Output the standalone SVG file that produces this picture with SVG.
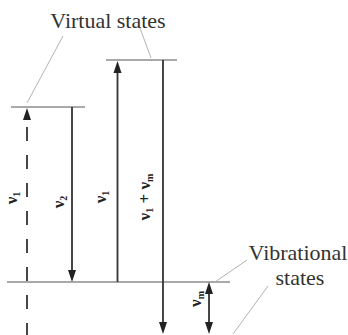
<svg xmlns="http://www.w3.org/2000/svg" width="348" height="335" viewBox="0 0 348 335">
<style>
.level{stroke:#555;stroke-width:1.2;fill:none}
.arr{stroke:#333;stroke-width:1.8;fill:none}
.lead{stroke:#aaa;stroke-width:0.9;fill:none}
.head{fill:#222}
.lbl{font-family:"Liberation Serif","Times New Roman",serif;font-size:22px;fill:#333}
.sym{font-family:"Liberation Serif","Times New Roman",serif;font-size:17px;fill:#222;font-weight:bold}
.sub{font-size:10px}
</style>
<rect width="348" height="335" fill="#fff"/>
<g id="levels">
<line class="level" x1="106" y1="60" x2="177" y2="60"/>
<line class="level" x1="11" y1="107" x2="85" y2="107"/>
<line class="level" x1="7" y1="282" x2="230" y2="282"/>
</g>
<g id="connectors">
<line class="arr" x1="27" y1="118" x2="27" y2="335" stroke-dasharray="14 14" stroke-dashoffset="19" stroke-width="2.2"/>
<polygon class="head" points="27,108 23,120 31,120"/>
<line class="arr" x1="72" y1="107" x2="72" y2="272"/>
<polygon class="head" points="72,282 68,270 76,270"/>
<line class="arr" x1="117.5" y1="282" x2="117.5" y2="70"/>
<polygon class="head" points="117.5,61 113.5,73 121.5,73"/>
<line class="arr" x1="163" y1="60" x2="163" y2="323"/>
<polygon class="head" points="163,334 159,322 167,322"/>
<line class="arr" x1="209" y1="292" x2="209" y2="324" stroke-width="2.2"/>
<polygon class="head" points="209,282 205,294 213,294"/>
<polygon class="head" points="209,334 205,322 213,322"/>
<line class="lead" x1="63" y1="36" x2="27" y2="103"/>
<line class="lead" x1="140" y1="28" x2="151" y2="58"/>
<line class="lead" x1="247" y1="260" x2="215" y2="282"/>
<line class="lead" x1="268" y1="286" x2="233" y2="334"/>
</g>
<g id="virtual-states">
<text class="lbl" x="108" y="28" text-anchor="middle">Virtual states</text>
</g>
<g id="vibrational-states">
<text class="lbl" x="298" y="260" text-anchor="middle">Vibrational</text>
<text class="lbl" x="300" y="285" text-anchor="middle">states</text>
</g>
<g id="labels">
<text class="sym" transform="translate(17,198) rotate(-90)" text-anchor="middle">ν<tspan class="sub" dy="3">1</tspan></text>
<text class="sym" transform="translate(64,202) rotate(-90)" text-anchor="middle">ν<tspan class="sub" dy="3">2</tspan></text>
<text class="sym" transform="translate(106,197) rotate(-90)" text-anchor="middle">ν<tspan class="sub" dy="3">1</tspan></text>
<text class="sym" transform="translate(150,197) rotate(-90)" text-anchor="middle">ν<tspan class="sub" dy="3">1</tspan><tspan dy="-3"> + ν</tspan><tspan class="sub" dy="3">m</tspan></text>
<text class="sym" transform="translate(201,299) rotate(-90)" text-anchor="middle">ν<tspan class="sub" dy="3">m</tspan></text>
</g>
</svg>
